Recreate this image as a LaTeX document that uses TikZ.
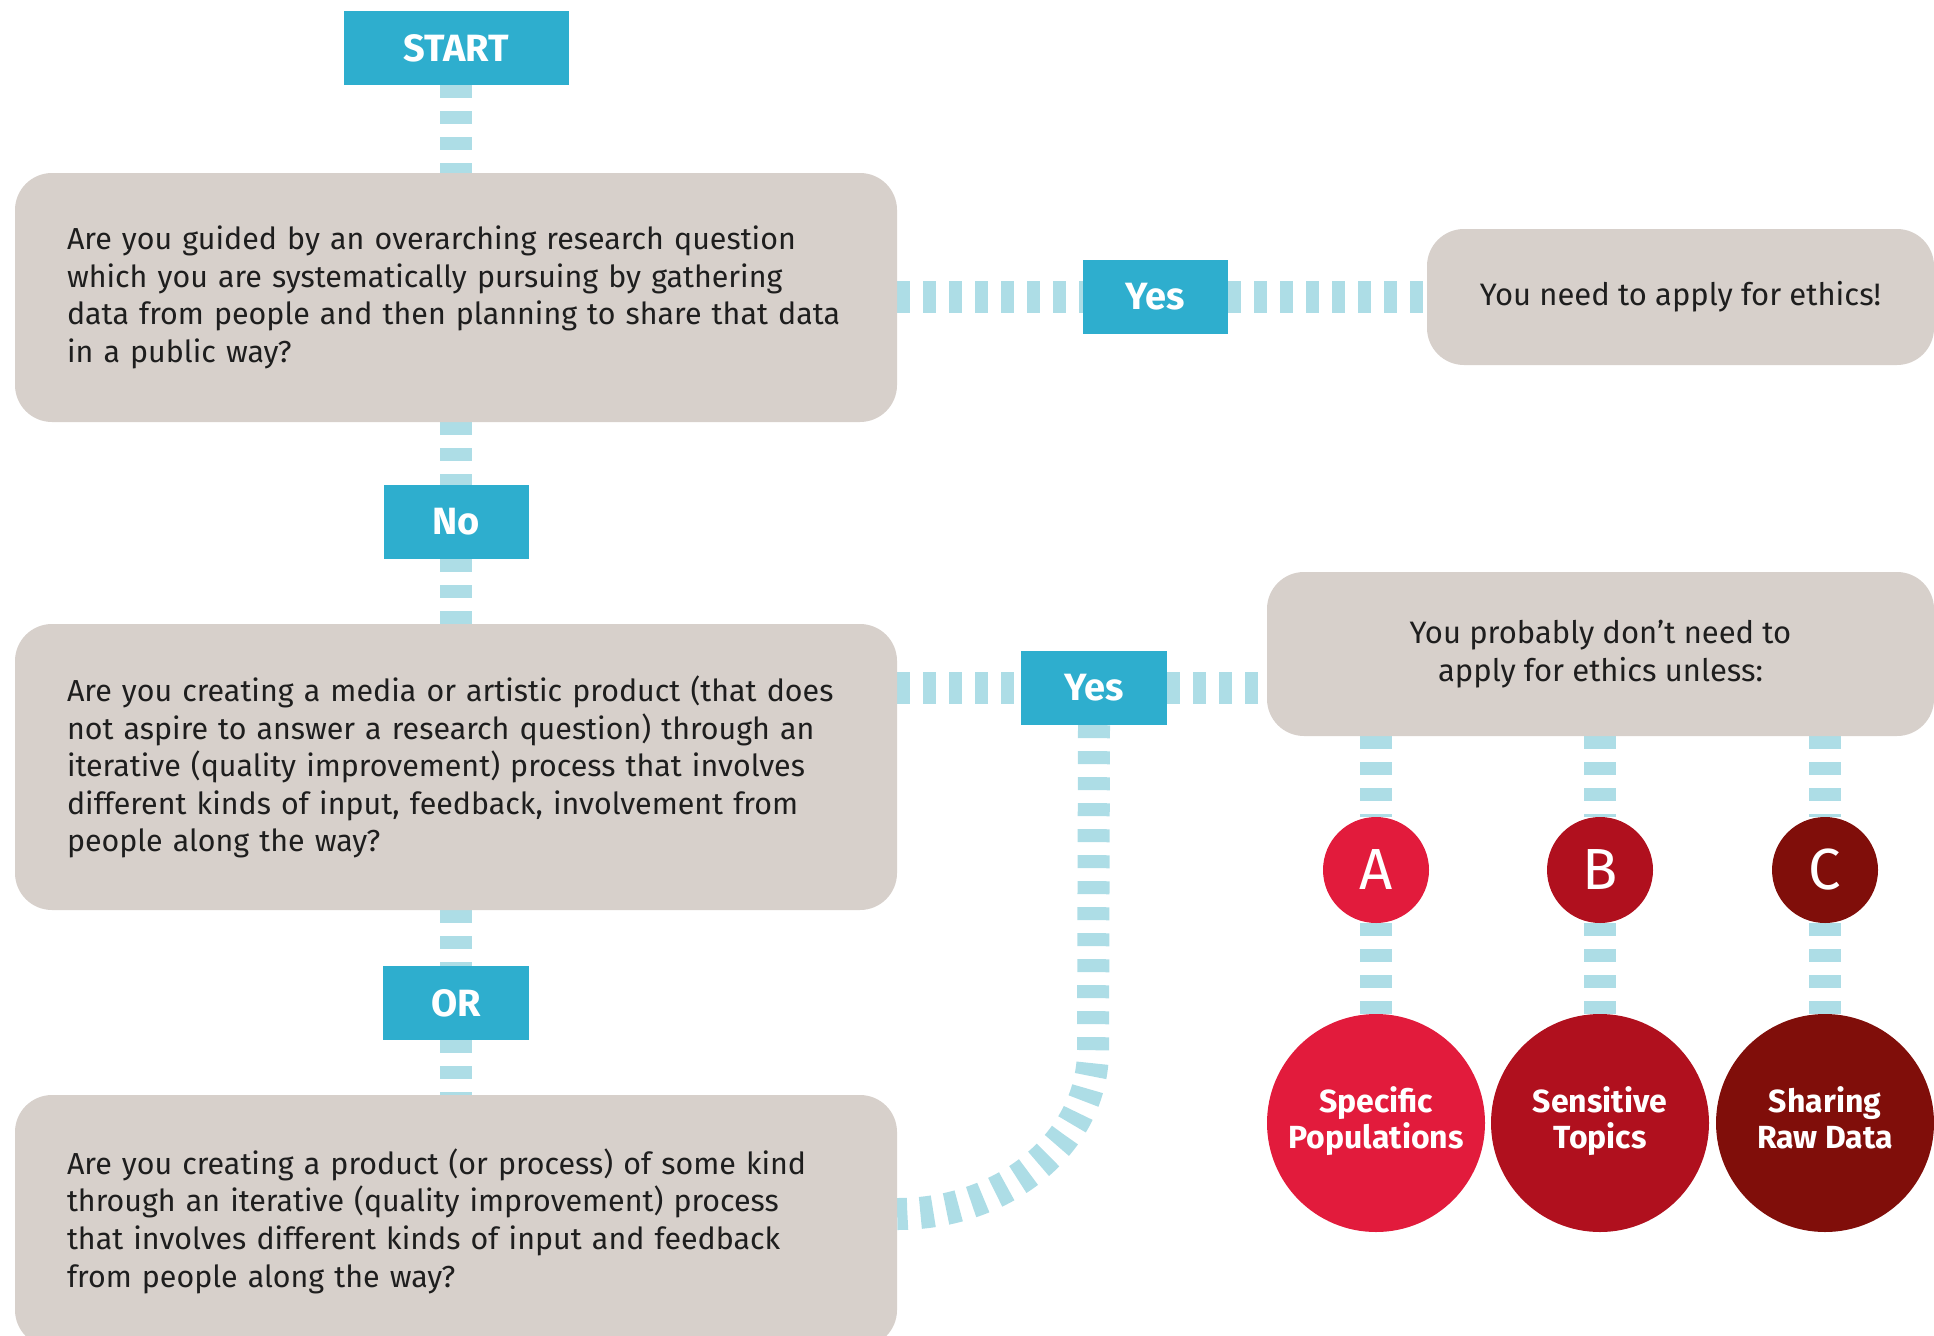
\documentclass[tikz,border=0pt]{standalone}
\usepackage{fontspec}
\setmainfont{Fira Sans}
\usetikzlibrary{backgrounds}
\definecolor{labelblue}{RGB}{46,174,206}
\definecolor{dashblue}{RGB}{173,221,230}
\definecolor{boxgrey}{RGB}{215,208,203}
\definecolor{textgrey}{RGB}{30,30,30}
\definecolor{redA}{RGB}{226,27,60}
\definecolor{redB}{RGB}{176,16,30}
\definecolor{redC}{RGB}{128,14,10}
\tikzset{
  question/.style={fill=boxgrey, rounded corners=37pt, minimum width=882pt, text width=778pt, inner xsep=52pt, inner ysep=0pt, align=left, text=textgrey, font=\fontsize{30.4}{37.6}\selectfont},
  outcome/.style={fill=boxgrey, rounded corners=37pt, inner sep=0pt, align=center, text=textgrey, font=\fontsize{31}{38}\selectfont},
  choice/.style={fill=labelblue, text=white, minimum height=74pt, inner sep=0pt, font=\bfseries\fontsize{38}{38}\selectfont},
  letter/.style={circle, minimum size=106pt, inner sep=0pt, text=white, font=\fontsize{58}{58}\selectfont},
  topic/.style={circle, minimum size=218pt, inner sep=0pt, align=center, text=white, font=\bfseries\fontsize{32}{36.4}\selectfont, execute at begin node=\strut, execute at end node=\strut},
  link/.style={dashblue, line width=32pt, dash pattern=on 13pt off 13pt}
}
\begin{document}
\begin{tikzpicture}[x=1pt,y=-1pt]
    \clip (0,0) rectangle (1934,1335);
    \node[choice, minimum width=225pt] (start) at (456,48) {START};
    \node[question, minimum height=249pt] (q1) at (456,297.5) {Are you guided by an overarching research question\\which you are systematically pursuing by gathering\\data from people and then planning to share that data\\in a public way?};
    \node[choice, minimum width=145pt] (no) at (456,522) {No};
    \node[question, minimum height=286pt] (q2) at (456,767) {Are you creating a media or artistic product (that does\\not aspire to answer a research question) through an\\iterative (quality improvement) process that involves\\different kinds of input, feedback, involvement from\\people along the way?};
    \node[choice, minimum width=146pt] (or) at (456,1003) {OR};
    \node[question, minimum height=252pt] (q3) at (456,1221) {Are you creating a product (or process) of some kind\\through an iterative (quality improvement) process\\that involves different kinds of input and feedback\\from people along the way?};

    \node[choice, minimum width=145pt] (yes1) at (1155.5,297) {Yes};
    \node[outcome, minimum width=507pt, minimum height=136pt] (ethics) at (1680.5,297) {You need to apply for ethics!};
    \node[choice, minimum width=146pt] (yes2) at (1094,688) {Yes};
    \node[outcome, minimum width=667pt, minimum height=164pt] (unless) at (1600.5,654) {You probably don’t need to\\apply for ethics unless:};

    \node[letter, fill=redA] (a) at (1376,870) {A};
    \node[letter, fill=redB, right of=a, node distance=224pt] (b) {B};
    \node[letter, fill=redC, right of=b, node distance=225pt] (c) {C};
    \node[topic, fill=redA, below of=a, node distance=253pt] (popul) {Specific\\Populations};
    \node[topic, fill=redB, below of=b, node distance=253pt] (topics) {Sensitive\\Topics};
    \node[topic, fill=redC, below of=c, node distance=253pt] (rawdata) {Sharing\\Raw Data};

    \coordinate (turn) at (1093,1050);

    \begin{pgfonlayer}{background}
        \draw[link] (start) -- (q1);
        \draw[link] (q1) -- (no);
        \draw[link] (no) -- (q2);
        \draw[link] (q2) -- (or);
        \draw[link] (or) -- (q3);
        \draw[link] (q1.east |- yes1) -- (yes1);
        \draw[link] (yes1) -- (ethics);
        \draw[link] (yes2 -| q2.east) -- (yes2);
        \draw[link] (yes2) -- (yes2 -| unless.west);
        \draw[link] (yes2.south) -- (turn) .. controls (1093,1141) and (1006,1214) .. ([yshift=7pt]q3.east);
        \draw[link] (a |- unless.south) -- (a);
        \draw[link] (b |- unless.south) -- (b);
        \draw[link] (c |- unless.south) -- (c);
        \draw[link] (a) -- (popul);
        \draw[link] (b) -- (topics);
        \draw[link] (c) -- (rawdata);
    \end{pgfonlayer}
\end{tikzpicture}
\end{document}
